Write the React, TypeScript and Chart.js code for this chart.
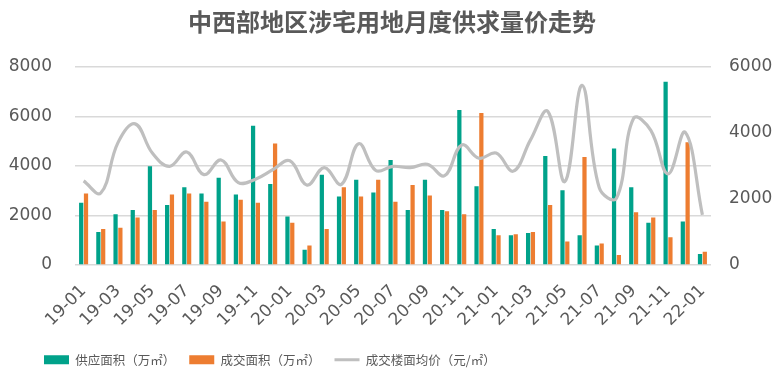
import React, { useEffect, useRef } from "react";
import { Chart, registerables } from "chart.js";

Chart.register(...registerables);

const categories = [
  "19-01","19-02","19-03","19-04","19-05","19-06","19-07","19-08","19-09","19-10","19-11","19-12",
  "20-01","20-02","20-03","20-04","20-05","20-06","20-07","20-08","20-09","20-10","20-11","20-12",
  "21-01","21-02","21-03","21-04","21-05","21-06","21-07","21-08","21-09","21-10","21-11","21-12",
  "22-01",
];

const supplyArea = [
  2509, 1331, 2046, 2215, 3983, 2425, 3141, 2889, 3520, 2846, 5625, 3267,
  1962, 615, 3646, 2762, 3436, 2930, 4236, 2215, 3436, 2215, 6257, 3183,
  1457, 1204, 1288, 4404, 3015, 1204, 783, 4699, 3141, 1709, 7394, 1752,
  446,
];

const dealArea = [
  2889, 1457, 1499, 1920, 2215, 2846, 2889, 2552, 1752, 2636, 2509, 4909,
  1709, 783, 1457, 3141, 2762, 3436, 2552, 3225, 2804, 2173, 2046, 6131,
  1204, 1246, 1331, 2425, 952, 4362, 867, 404, 2131, 1920, 1120, 4952,
  531,
];

const avgPrice = [
  2545, 2179, 3704, 4273, 3388, 2987, 3420, 2735, 3177, 2495, 2599, 2883,
  3158, 2419, 2946, 2441, 3673, 2861, 2987, 2946, 3051, 2703, 3632, 3231,
  3388, 2842, 3789, 4652, 2526, 5441, 2337, 2021, 4440, 4073, 2757, 4020,
  1516,
];

const leftTicks = [0, 2000, 4000, 6000, 8000];
const rightTicks = [0, 2000, 4000, 6000];

const seriesNames = ["供应面积（万㎡）", "成交面积（万㎡）", "成交楼面均价（元/㎡）"];
const titleText = "中西部地区涉宅用地月度供求量价走势";

const TEXT = "#595959";
const TEAL = "#00A28A";
const ORANGE = "#ED7D31";
const GRAY = "#BFBFBF";
const GRID = "#D9D9D9";
const TICK_FONT = { family: "'DejaVu Sans', sans-serif", size: 17 };
const LEGEND_INDENT = 30;

const legendShift = {
  id: "legendShift",
  afterLayout(chart: any) {
    if (chart.legend) {
      chart.legend.left += LEGEND_INDENT;
      chart.legend.right += LEGEND_INDENT;
    }
  },
};

export default function App() {
  const ref = useRef<HTMLCanvasElement | null>(null);

  useEffect(() => {
    if (!ref.current) return;
    const chart = new Chart(ref.current, {
      type: "bar",
      data: {
        labels: categories,
        datasets: [
          {
            type: "bar",
            label: seriesNames[0],
            data: supplyArea,
            backgroundColor: TEAL,
            borderWidth: 0,
            yAxisID: "y",
            categoryPercentage: 0.56,
            barPercentage: 0.88,
            pointStyle: "rect",
            order: 1,
          } as any,
          {
            type: "bar",
            label: seriesNames[1],
            data: dealArea,
            backgroundColor: ORANGE,
            borderWidth: 0,
            yAxisID: "y",
            categoryPercentage: 0.56,
            barPercentage: 0.88,
            pointStyle: "rect",
            order: 1,
          } as any,
          {
            type: "line",
            label: seriesNames[2],
            data: avgPrice,
            borderColor: GRAY,
            backgroundColor: GRAY,
            borderWidth: 3.2,
            pointRadius: 0,
            pointHoverRadius: 0,
            tension: 0.4,
            yAxisID: "y1",
            pointStyle: "line",
            order: 0,
          } as any,
        ],
      },
      options: {
        responsive: false,
        animation: false,
        layout: { padding: { left: 0, right: 0, top: 0, bottom: 5 } },
        plugins: {
          title: {
            display: true,
            text: titleText,
            color: TEXT,
            font: { family: "'Noto Sans CJK SC', sans-serif", size: 24, weight: "bold" },
            padding: { top: 7, bottom: 31 },
          },
          legend: {
            display: true,
            position: "bottom",
            align: "start",
            labels: {
              usePointStyle: true,
              pointStyleWidth: 25,
              boxHeight: 9,
              boxWidth: 25,
              padding: 14,
              color: TEXT,
              font: { family: "'Noto Sans CJK SC', sans-serif", size: 12.5 },
              sort: (a: any, b: any) => a.datasetIndex - b.datasetIndex,
            },
          },
          tooltip: { enabled: false },
        },
        scales: {
          x: {
            grid: { display: false, drawTicks: false },
            border: { display: false },
            ticks: {
              autoSkip: false,
              maxRotation: 45,
              minRotation: 45,
              padding: 16,
              color: TEXT,
              font: TICK_FONT,
              callback: (_v: any, i: number) => (i % 2 === 0 ? categories[i] : ""),
            },
            afterFit: (s: any) => {
              s.height = 74.5;
            },
          },
          y: {
            position: "left",
            min: leftTicks[0],
            max: leftTicks[leftTicks.length - 1],
            grid: { color: GRID, lineWidth: 1.6, drawTicks: false },
            border: { display: false },
            afterBuildTicks: (s: any) => {
              s.ticks = leftTicks.map((v) => ({ value: v }));
            },
            ticks: { padding: 23, color: TEXT, font: TICK_FONT, callback: (v: any) => String(v) },
            afterFit: (s: any) => {
              s.width = 75;
            },
          },
          y1: {
            position: "right",
            min: rightTicks[0],
            max: rightTicks[rightTicks.length - 1],
            grid: { display: false, drawTicks: false },
            border: { display: false },
            afterBuildTicks: (s: any) => {
              s.ticks = rightTicks.map((v) => ({ value: v }));
            },
            ticks: { padding: 18, color: TEXT, font: TICK_FONT, callback: (v: any) => String(v) },
            afterFit: (s: any) => {
              s.width = 73;
            },
          },
        },
      } as any,
      plugins: [legendShift],
    });
    return () => chart.destroy();
  }, []);

  return (
    <canvas
      ref={ref}
      width={784}
      height={381}
      style={{ position: "fixed", left: 0, top: 0, width: 784, height: 381, display: "block", background: "#fff" }}
    />
  );
}
